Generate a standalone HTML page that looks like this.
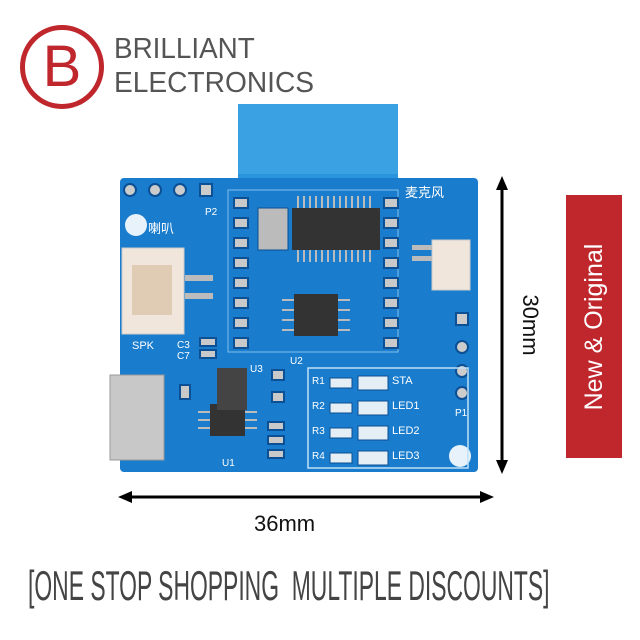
<!DOCTYPE html>
<html><head><meta charset="utf-8"><style>
body{margin:0;width:640px;height:640px;background:#fff;position:relative;overflow:hidden;font-family:"Liberation Sans",sans-serif}
.a{position:absolute}
.t{position:absolute;color:#fff;font-size:11px}
</style></head><body>
<!-- logo -->
<div class="a" style="left:20px;top:25px;width:74px;height:74px;border:5px solid #c0272d;border-radius:50%"></div>
<div class="a" style="left:20px;top:30px;width:84px;text-align:center;font-size:58px;color:#c0272d;line-height:74px">B</div>
<div class="a" style="left:114px;top:33px;font-size:29px;color:#555;transform:scaleX(0.96);transform-origin:left top">BRILLIANT</div>
<div class="a" style="left:114px;top:67px;font-size:29px;color:#555;transform:scaleX(0.97);transform-origin:left top">ELECTRONICS</div>
<!-- banner -->
<div class="a" style="left:566px;top:195px;width:56px;height:263px;background:#c0272d"></div>
<div class="a" style="left:466px;top:312px;width:256px;height:30px;transform:rotate(-90deg);color:#fff;font-size:25px;text-align:center;line-height:30px">New &amp; Original</div>
<!-- board -->
<svg class="a" style="left:0;top:0" width="640" height="640">
<rect x="238" y="104" width="160" height="90" rx="3" fill="#2a95dc"/>
<rect x="120" y="178" width="358" height="294" rx="4" fill="#1a7ccc"/>
<rect x="238" y="104" width="160" height="70" fill="#3aa2e2"/>
<rect x="228" y="190" width="170" height="162" fill="none" stroke="#7fc0ee" stroke-width="1"/>
<g fill="#ccc" stroke="#0b4f94" stroke-width="2"><circle cx="130" cy="190" r="6"/><circle cx="155" cy="190" r="6"/><circle cx="180" cy="190" r="6"/><rect x="200" y="184" width="12" height="12"/>
<circle cx="462" cy="347" r="6"/><circle cx="462" cy="371" r="6"/><circle cx="462" cy="393" r="6"/><rect x="456" y="313" width="12" height="12"/></g>
<circle cx="136" cy="225" r="11" fill="#e8f2fb"/>
<circle cx="460" cy="456" r="11" fill="#e8f2fb"/>
<rect x="292" y="208" width="88" height="42" fill="#333"/>
<g stroke="#bbb" stroke-width="2"><path d="M298 196v12M304 196v12M310 196v12M316 196v12M322 196v12M328 196v12M334 196v12M340 196v12M346 196v12M352 196v12M358 196v12M364 196v12M370 196v12M298 250v12M304 250v12M310 250v12M316 250v12M322 250v12M328 250v12M334 250v12M340 250v12M346 250v12M352 250v12M358 250v12M364 250v12M370 250v12"/>
<path d="M282 300h12M282 310h12M282 320h12M282 330h12M338 300h12M338 310h12M338 320h12M338 330h12"/>
<path d="M198 412h12M198 420h12M198 428h12M245 412h12M245 420h12M245 428h12"/></g>
<rect x="294" y="294" width="44" height="42" fill="#333"/>
<rect x="210" y="404" width="35" height="32" fill="#333"/>
<rect x="217" y="368" width="30" height="42" fill="#444"/>
<rect x="258" y="208" width="30" height="42" fill="#bbb" stroke="#0b4f94"/>
<rect x="122" y="248" width="62" height="86" fill="#f0e6dc" stroke="#ccc"/>
<rect x="132" y="265" width="40" height="50" fill="#e0cbb4"/>
<rect x="185" y="275" width="28" height="6" fill="#bbb"/><rect x="185" y="293" width="28" height="6" fill="#bbb"/>
<rect x="432" y="240" width="38" height="50" fill="#f0e6dc" stroke="#ccc"/>
<rect x="412" y="245" width="20" height="5" fill="#bbb"/><rect x="412" y="256" width="20" height="5" fill="#bbb"/>
<rect x="110" y="375" width="54" height="85" fill="#c8c8c8" stroke="#999"/>
<rect x="308" y="368" width="160" height="100" fill="none" stroke="#bfe0f7" stroke-width="1.5"/>
<g fill="#e6eef5" stroke="#0b4f94"><rect x="358" y="376" width="30" height="14"/><rect x="358" y="401" width="30" height="14"/><rect x="358" y="426" width="30" height="14"/><rect x="358" y="451" width="30" height="14"/>
<rect x="330" y="378" width="22" height="10"/><rect x="330" y="403" width="22" height="10"/><rect x="330" y="428" width="22" height="10"/><rect x="330" y="453" width="22" height="10"/></g>
<g fill="#c9c9c9" stroke="#0b4f94" stroke-width="2">
<rect x="234" y="198" width="14" height="10"/><rect x="234" y="218" width="14" height="10"/><rect x="234" y="238" width="14" height="10"/><rect x="234" y="258" width="14" height="10"/><rect x="234" y="278" width="14" height="10"/><rect x="234" y="298" width="14" height="10"/><rect x="234" y="318" width="14" height="10"/><rect x="234" y="338" width="14" height="10"/>
<rect x="384" y="198" width="14" height="10"/><rect x="384" y="218" width="14" height="10"/><rect x="384" y="238" width="14" height="10"/><rect x="384" y="258" width="14" height="10"/><rect x="384" y="278" width="14" height="10"/><rect x="384" y="298" width="14" height="10"/><rect x="384" y="318" width="14" height="10"/><rect x="384" y="338" width="14" height="10"/>
<rect x="200" y="338" width="16" height="8"/><rect x="200" y="350" width="16" height="8"/><rect x="180" y="385" width="10" height="14"/><rect x="272" y="370" width="12" height="10"/><rect x="272" y="392" width="12" height="10"/>
<rect x="268" y="422" width="16" height="8"/><rect x="268" y="436" width="16" height="8"/><rect x="268" y="450" width="16" height="8"/></g>
<line x1="128" y1="497" x2="486" y2="497" stroke="#000" stroke-width="3"/>
<polygon points="118,497 132,491 132,503" fill="#000"/><polygon points="494,497 480,491 480,503" fill="#000"/>
<line x1="502" y1="186" x2="502" y2="466" stroke="#000" stroke-width="3"/>
<polygon points="502,176 496,190 508,190" fill="#000"/><polygon points="502,474 496,460 508,460" fill="#000"/>
</svg>
<div class="t" style="left:148px;top:218px;font-size:13px;font-family:'Noto Sans CJK SC',sans-serif">喇叭</div>
<div class="t" style="left:405px;top:182px;font-size:13px;font-family:'Noto Sans CJK SC',sans-serif">麦克风</div>
<div class="t" style="left:132px;top:340px">SPK</div>
<div class="t" style="left:177px;top:340px;font-size:10px">C3<br>C7</div>
<div class="t" style="left:392px;top:375px">STA</div>
<div class="t" style="left:392px;top:400px">LED1</div>
<div class="t" style="left:392px;top:425px">LED2</div>
<div class="t" style="left:392px;top:450px">LED3</div>
<div class="t" style="left:312px;top:376px;font-size:10px">R1</div>
<div class="t" style="left:312px;top:401px;font-size:10px">R2</div>
<div class="t" style="left:312px;top:426px;font-size:10px">R3</div>
<div class="t" style="left:312px;top:451px;font-size:10px">R4</div>
<div class="t" style="left:250px;top:364px;font-size:10px">U3</div>
<div class="t" style="left:290px;top:356px;font-size:10px">U2</div>
<div class="t" style="left:222px;top:458px;font-size:10px">U1</div>
<div class="t" style="left:455px;top:408px;font-size:10px">P1</div>
<div class="t" style="left:205px;top:207px;font-size:10px">P2</div>
<div class="a" style="left:254px;top:511px;font-size:22px;color:#111">36mm</div>
<div class="a" style="left:492px;top:312px;width:76px;text-align:center;font-size:22px;color:#111;transform:rotate(90deg)">30mm</div>
<div class="a" style="left:28px;top:562px;font-size:42px;color:#444;transform:scaleX(0.545);transform-origin:left top;white-space:pre">[ONE STOP SHOPPING  MULTIPLE DISCOUNTS]</div>
</body></html>
